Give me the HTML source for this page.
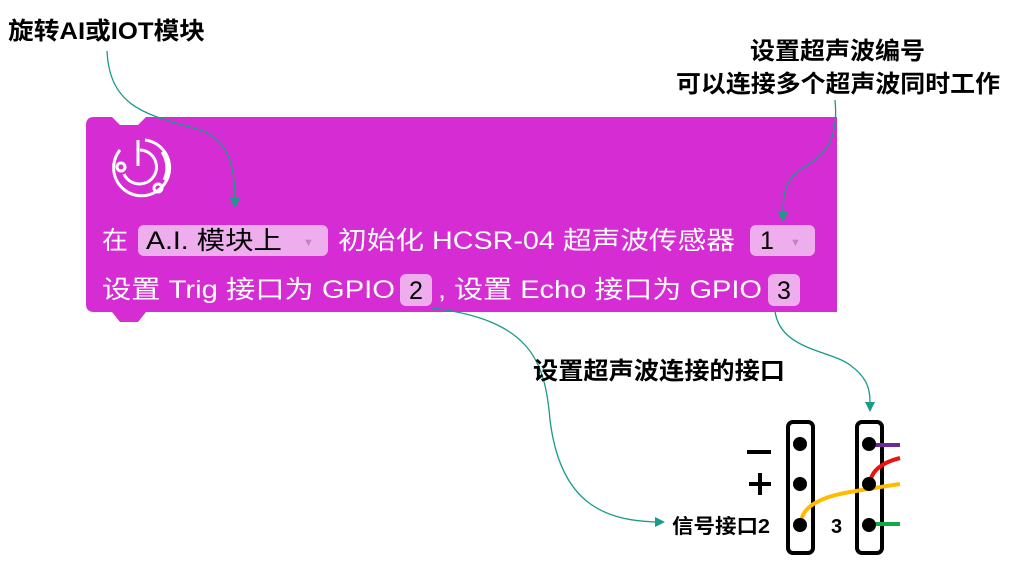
<!DOCTYPE html>
<html><head><meta charset="utf-8"><style>
html,body{margin:0;padding:0;background:#fff;}
body{width:1012px;height:567px;position:relative;overflow:hidden;}
svg text{font-family:"Liberation Sans","Noto Sans CJK SC",sans-serif;}
.b{font-weight:bold;fill:#000;}
.w{fill:#fff;font-size:25px;}
.k{fill:#000;font-size:25px;}
</style></head><body>
<svg width="1012" height="567" style="position:absolute;left:0;top:0">
  <path d="M94 117 H112 L120 125 H138 L146 117 H837 V312 H146 L138 322 H120 L112 312 H94 Q86 312 86 304 V125 Q86 117 94 117Z" fill="#d52cd3"/>
  <g fill="none" stroke="#fff" stroke-width="3">
    <path d="M145 140 A28 28 0 1 1 120 150"/>
    <path d="M140 150 A17 17 0 1 1 124 174"/>
    <line x1="138" y1="140" x2="138" y2="166"/>
    <circle cx="121" cy="167" r="4"/>
    <path d="M162 152 A28 28 0 0 1 164 180"/>
    <circle cx="158" cy="188" r="4"/>
  </g>
  <rect x="138" y="225" width="190" height="31" rx="6" fill="#eeadec"/>
  <rect x="750" y="225" width="65" height="31" rx="6" fill="#eeadec"/>
  <rect x="400" y="274" width="32" height="32" rx="6" fill="#eeadec"/>
  <rect x="768" y="274" width="32" height="32" rx="6" fill="#eeadec"/>
  <text class="w" x="102" y="249" textLength="26" lengthAdjust="spacingAndGlyphs">在</text>
  <text class="k" x="146" y="249" textLength="136" lengthAdjust="spacingAndGlyphs">A.I. 模块上</text>
  <text x="303" y="246" font-size="11" fill="#c87fc6">▼</text>
  <text class="w" x="338" y="249" textLength="397" lengthAdjust="spacingAndGlyphs">初始化 HCSR-04 超声波传感器</text>
  <text class="k" x="760" y="249">1</text>
  <text x="790" y="246" font-size="11" fill="#c87fc6">▼</text>
  <text class="w" x="102" y="298" textLength="293" lengthAdjust="spacingAndGlyphs">设置 Trig 接口为 GPIO</text>
  <text class="k" x="409" y="299">2</text>
  <text class="w" x="438" y="298" textLength="324" lengthAdjust="spacingAndGlyphs">, 设置 Echo 接口为 GPIO</text>
  <text class="k" x="777" y="299">3</text>
  <g fill="none" stroke="#1a9a88" stroke-width="1.3">
    <path d="M107 51 C110 110 150 115 200 130 C230 140 235 170 235 200"/>
    <path d="M835 100 C840 150 815 160 800 170 C785 180 783 195 783 212"/>
    <path d="M432 308 C530 320 545 360 550 420 C560 500 600 520 655 522"/>
    <path d="M775 311 C780 350 830 350 850 365 C868 378 870 390 870 402"/>
  </g>
  <g fill="#1a9a88">
    <path d="M230 198 L240 198 L235 208Z"/>
    <path d="M778 212 L788 212 L783 222Z"/>
    <path d="M655 517 L665 522 L655 527Z"/>
    <path d="M865 402 L875 402 L870 412Z"/>
  </g>
  <rect x="788" y="422" width="25" height="131" rx="5" fill="#fff" stroke="#000" stroke-width="4"/>
  <rect x="857" y="422" width="25" height="131" rx="5" fill="#fff" stroke="#000" stroke-width="4"/>
  <path d="M870 445 H900" stroke="#6a2a9a" stroke-width="4"/>
  <path d="M870 483 Q872 465 900 458" stroke="#ee1111" stroke-width="4" fill="none"/>
  <path d="M870 524 H900" stroke="#11aa44" stroke-width="4"/>
  <path d="M801 522 Q803 500 850 492 Q880 487 900 484" stroke="#ffbb00" stroke-width="4" fill="none"/>
  <g fill="#000">
    <circle cx="800" cy="444" r="7"/><circle cx="800" cy="484" r="7"/><circle cx="800" cy="525" r="7"/>
    <circle cx="869" cy="444" r="7"/><circle cx="869" cy="484" r="7"/><circle cx="869" cy="525" r="7"/>
  </g>
  <rect x="747" y="450" width="24" height="4" fill="#000"/>
  <rect x="749" y="482" width="22" height="4" fill="#000"/>
  <rect x="758" y="473" width="4" height="22" fill="#000"/>
  <text class="b" x="8" y="39" font-size="24" textLength="197" lengthAdjust="spacingAndGlyphs">旋转AI或IOT模块</text>
  <text class="b" x="750" y="59" font-size="24" textLength="175" lengthAdjust="spacingAndGlyphs">设置超声波编号</text>
  <text class="b" x="676" y="92" font-size="24" textLength="324" lengthAdjust="spacingAndGlyphs">可以连接多个超声波同时工作</text>
  <text class="b" x="533" y="379" font-size="24" textLength="252" lengthAdjust="spacingAndGlyphs">设置超声波连接的接口</text>
  <text class="b" x="672" y="533" font-size="20" textLength="98" lengthAdjust="spacingAndGlyphs">信号接口2</text>
  <text class="b" x="831" y="533" font-size="20">3</text>
</svg>
</body></html>
